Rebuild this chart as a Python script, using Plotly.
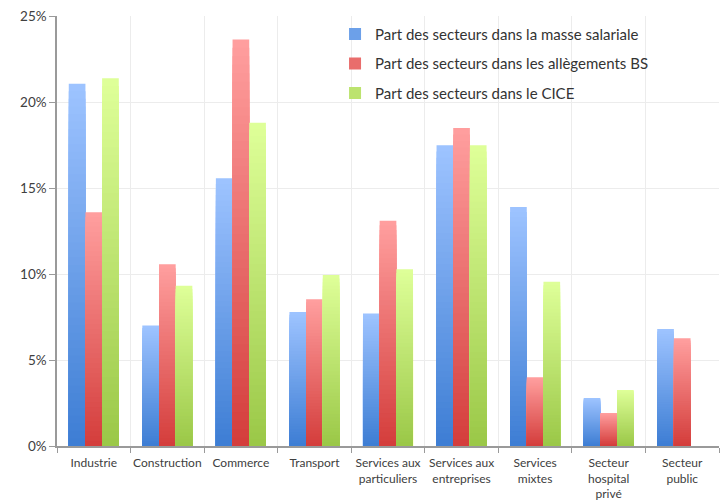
import plotly.graph_objects as go

# Sector shares (fraction of total) for each measure
secteurs = [
    "Industrie", "Construction", "Commerce", "Transport",
    "Services aux particuliers", "Services aux entreprises",
    "Services mixtes", "Secteur hospital privé", "Secteur public",
]
libelles = [
    "Industrie", "Construction", "Commerce", "Transport",
    "Services aux<br>particuliers", "Services aux<br>entreprises",
    "Services<br>mixtes", "Secteur<br>hospital<br>privé", "Secteur<br>public",
]
masse_salariale = [0.2106, 0.0700, 0.1556, 0.0779, 0.0771, 0.1748, 0.1390, 0.0279, 0.0680]
allegements_bs = [0.1359, 0.1056, 0.2364, 0.0853, 0.1310, 0.1849, 0.0399, 0.0192, 0.0626]
cice = [0.2138, 0.0932, 0.1880, 0.0994, 0.1027, 0.1748, 0.0955, 0.0326, None]

series = [
    ("Part des secteurs dans la masse salariale", masse_salariale, (157, 195, 255), (62, 126, 212)),
    ("Part des secteurs dans les allègements BS", allegements_bs, (255, 158, 158), (212, 62, 60)),
    ("Part des secteurs dans le CICE", cice, (222, 255, 152), (155, 200, 72)),
]

STEPS = 48  # number of overlaid layers used for the vertical colour gradient


def mix(top, bottom, t):
    r, g, b = (round(a + (c - a) * t) for a, c in zip(top, bottom))
    return f"rgb({r},{g},{b})"


fig = go.Figure()
for idx, (name, values, top, bottom) in enumerate(series):
    # Each layer starts at zero and covers the lower part of the bar with a
    # darker shade, giving a light top fading to a darker base.
    for k in range(STEPS):
        frac = (STEPS - k) / STEPS
        heights = [None if v is None else v * frac for v in values]
        fig.add_trace(go.Bar(
            x=secteurs,
            y=heights,
            name=name,
            legendgroup=name,
            legendrank=idx + 1,
            showlegend=(k == STEPS // 2),
            offsetgroup=str(idx),
            marker=dict(color=mix(top, bottom, k / (STEPS - 1)), line=dict(width=0)),
            hoverinfo="skip" if k else None,
        ))

axis_col = "#9a9a9a"
grid_col = "#ececec"
font_family = "Lato, 'Open Sans', sans-serif"

fig.update_layout(
    width=724,
    height=502,
    barmode="group",
    bargap=0.32,
    bargroupgap=0,
    plot_bgcolor="white",
    paper_bgcolor="white",
    margin=dict(l=57, r=5, t=16, b=56, autoexpand=False),
    font=dict(family=font_family, color="#404040"),
    legend=dict(
        x=0.42, y=0.996, xanchor="left", yanchor="top",
        bgcolor="rgba(0,0,0,0)",
        font=dict(size=15, color="#333333"),
        traceorder="grouped",
        tracegroupgap=7,
    ),
    xaxis=dict(
        type="category",
        tickmode="array",
        tickvals=secteurs,
        ticktext=libelles,
        tickson="boundaries",
        tickangle=0,
        automargin=False,
        ticklabelstandoff=5,
        showgrid=True,
        gridcolor=grid_col,
        showline=True,
        linecolor=axis_col,
        linewidth=1.5,
        ticks="outside",
        ticklen=5,
        tickcolor=axis_col,
        tickfont=dict(size=12, color="#404040"),
        range=[-0.5, 8.5],
    ),
    yaxis=dict(
        range=[0, 0.25],
        dtick=0.05,
        tickformat=".0%",
        automargin=False,
        showgrid=True,
        gridcolor=grid_col,
        showline=True,
        linecolor=axis_col,
        linewidth=1.5,
        ticks="outside",
        ticklen=6,
        tickcolor=axis_col,
        tickfont=dict(size=13.5, color="#404040"),
        zeroline=False,
    ),
)

fig.write_html("out.html")
